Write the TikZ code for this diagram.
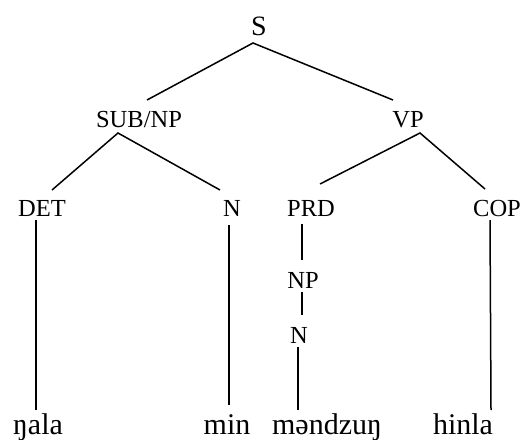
\documentclass[tikz,border=0pt]{standalone}
\usepackage{fontspec}
\setmainfont{Liberation Serif}
\begin{document}
\begin{tikzpicture}[x=1pt,y=-1pt,
  cat/.style={anchor=base,inner sep=0pt,font=\fontsize{24.5}{28}\selectfont},
  root/.style={anchor=base,inner sep=0pt,font=\fontsize{28}{31}\selectfont},
  word/.style={anchor=base,inner sep=0pt,font=\fontsize{30}{34}\selectfont},
  branch/.style={line width=1.5pt}]
\useasboundingbox (0,0) rectangle (526,439);
% category labels
\node[root] (s)     at (259,35)  {S};
\node[cat]  (subnp) at (139,127) {SUB/NP};
\node[cat]  (vp)    at (408,127) {VP};
\node[cat]  (det)   at (42,216)  {DET};
\node[cat]  (n1)    at (232,216) {N};
\node[cat]  (prd)   at (311,216) {PRD};
\node[cat]  (cop)   at (497,216) {COP};
\node[cat]  (np)    at (303,288) {NP};
\node[cat]  (n2)    at (299,343) {N};
% words
\node[word] (w1) at (38,434)  {ŋala};
\node[word] (w2) at (227,434) {min};
\node[word] (w3) at (327,434) {məndzuŋ};
\node[word] (w4) at (463,434) {hinla};
% branch end points
\coordinate (s-b)     at (253,43);
\coordinate (subnp-t) at (147,100);
\coordinate (vp-t)    at (393,100);
\coordinate (subnp-b) at (118,133);
\coordinate (vp-b)    at (420,133);
\coordinate (det-t)   at (52,190);
\coordinate (n1-t)    at (220,190);
\coordinate (prd-t)   at (320,184);
\coordinate (cop-t)   at (485,189);
\coordinate (det-b)   at (36,220);
\coordinate (n1-b)    at (229,225);
\coordinate (prd-b)   at (302,224);
\coordinate (np-t)    at (302,260);
\coordinate (np-b)    at (302,292);
\coordinate (n2-t)    at (302,315);
\coordinate (n2-b)    at (298,347);
\coordinate (cop-b)   at (490,220);
\coordinate (w1-t)    at (36,410);
\coordinate (w2-t)    at (229,405);
\coordinate (w3-t)    at (298,410);
\coordinate (w4-t)    at (491,410);
% branches
\draw[branch] (subnp-t) -- (s-b) -- (vp-t);
\draw[branch] (det-t) -- (subnp-b) -- (n1-t);
\draw[branch] (prd-t) -- (vp-b) -- (cop-t);
\draw[branch] (det-b) -- (w1-t);
\draw[branch] (n1-b) -- (w2-t);
\draw[branch] (prd-b) -- (np-t);
\draw[branch] (np-b) -- (n2-t);
\draw[branch] (n2-b) -- (w3-t);
\draw[branch] (cop-b) -- (w4-t);
\end{tikzpicture}
\end{document}
